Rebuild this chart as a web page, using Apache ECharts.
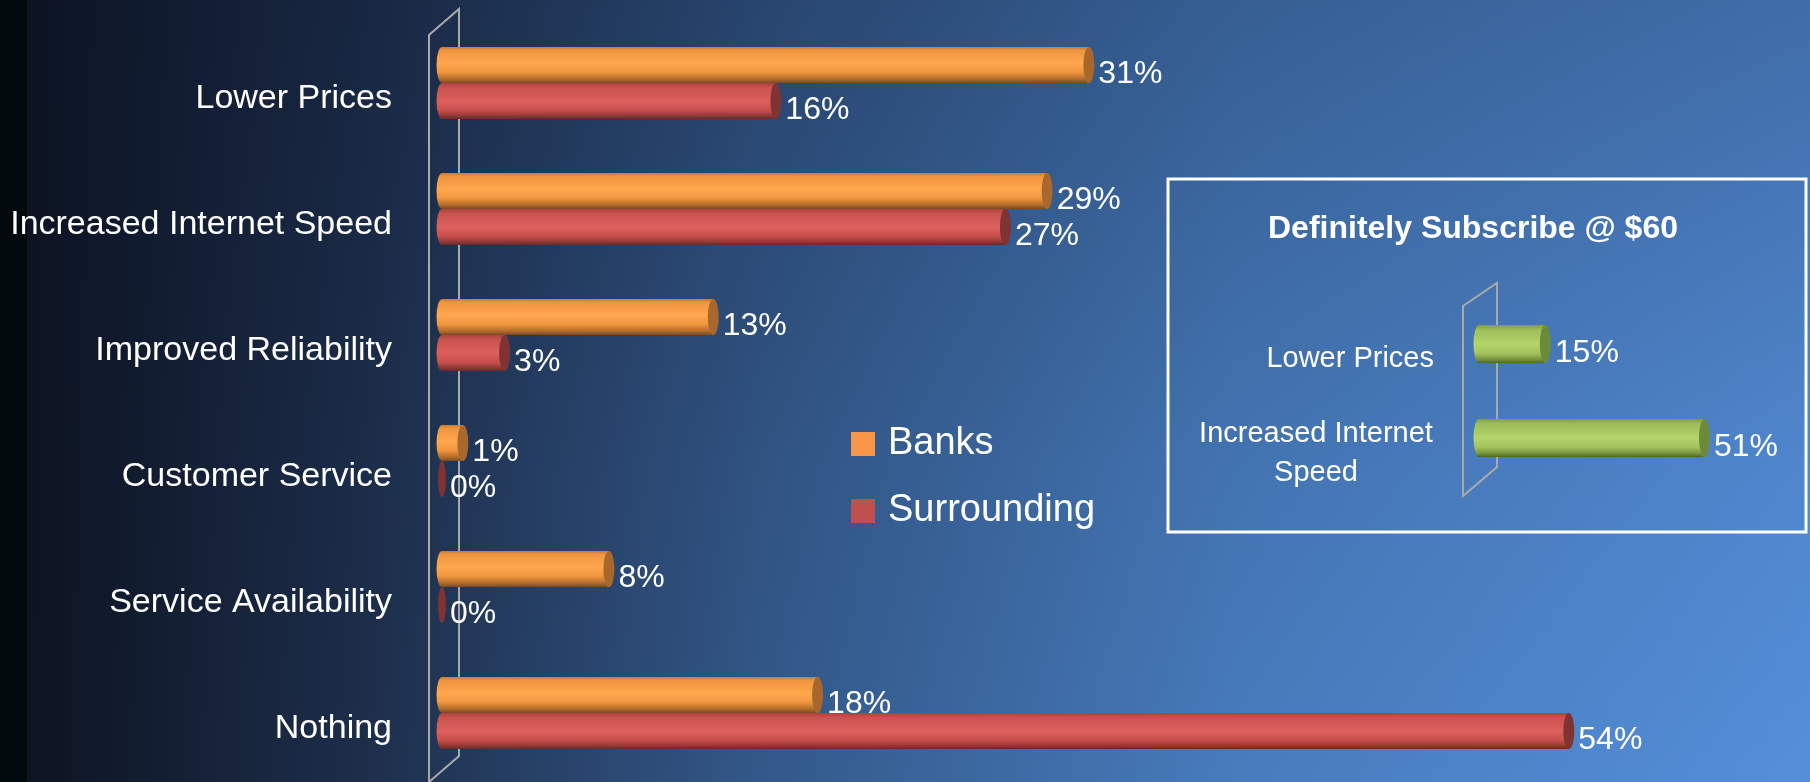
<!DOCTYPE html>
<html>
<head>
<meta charset="utf-8">
<script src="https://cdn.jsdelivr.net/npm/echarts@6/dist/echarts.min.js"></script>
<style>
  html, body { margin: 0; padding: 0; background: #0c1220; }
  #chart { width: 1810px; height: 782px; }
</style>
</head>
<body>
<div id="chart"></div>
<script>
// Survey answers: what would make households switch providers
const categories = ['Lower Prices', 'Increased Internet Speed', 'Improved Reliability', 'Customer Service', 'Service Availability', 'Nothing'];
const banks = [31, 29, 13, 1, 8, 18];
const surrounding = [16, 27, 3, 0, 0, 54];

// Inset: share that would definitely subscribe at $60
const insetTitle = 'Definitely Subscribe @ $60';
const insetCategories = ['Lower Prices', 'Increased Internet Speed'];
const insetValues = [15, 51];

const FONT = '"Liberation Sans", Arial, sans-serif';

const W = 1810, H = 782;
// main plot area (left edge = zero line)
const MAIN = { left: 442, top: 20, height: 756, width: 1252 };
// inset plot area
const INSET = { left: 1479, top: 297, height: 188, width: 442 };
const BOX = { x: 1168, y: 179, w: 638, h: 353 };

function vGrad(stops) {
  return { type: 'linear', x: 0, y: 0, x2: 0, y2: 1,
    colorStops: stops.map(s => ({ offset: s[0], color: s[1] })) };
}

const palettes = {
  orange: {
    body: [[0, '#c77a36'], [0.1, '#f0953f'], [0.45, '#ffa84e'], [0.7, '#f0963f'], [0.9, '#b06a2a'], [1, '#7a4820']],
    cap: '#a8672c', legend: '#F79646'
  },
  red: {
    body: [[0, '#a8423f'], [0.12, '#c9524f'], [0.5, '#dd605d'], [0.75, '#c9504d'], [0.92, '#8c3836'], [1, '#6a2826']],
    cap: '#7f3332', legend: '#C0504D'
  },
  green: {
    body: [[0, '#7e9c44'], [0.12, '#9dbd5a'], [0.5, '#b3d56b'], [0.75, '#a2c25e'], [0.92, '#71903a'], [1, '#4f6428']],
    cap: '#6d8a3b', legend: '#9BBB59'
  }
};

// Cylinder-shaped horizontal bar: body + rounded start + darker end cap + value text
function cylinder(pal, slotOffset, thickFrac, labelSize, labelDy) {
  return function (params, api) {
    const v = api.value(0);
    const c = api.value(1);
    const p0 = api.coord([0, c]);
    const p1 = api.coord([v, c]);
    const band = api.size([0, 1])[1];
    const th = band * thickFrac;
    const yTop = p0[1] + slotOffset * th;
    const ry = th / 2;
    const cy = yTop + ry;
    const rx = v > 0 ? 5.5 : 4;
    const children = [];
    if (v > 0) {
      children.push({
        type: 'circle', x: p0[0], y: cy, scaleX: rx / ry,
        shape: { cx: 0, cy: 0, r: ry },
        style: { fill: vGrad(pal.body) }
      });
      children.push({
        type: 'rect',
        shape: { x: p0[0], y: yTop, width: p1[0] - p0[0], height: th },
        style: { fill: vGrad(pal.body) }
      });
    }
    children.push({
      type: 'circle', x: p1[0], y: cy, scaleX: rx / ry,
      shape: { cx: 0, cy: 0, r: ry },
      style: { fill: pal.cap }
    });
    children.push({
      type: 'text', x: p1[0] + rx + 4, y: cy + labelDy,
      style: {
        text: v + '%', fill: '#ffffff', align: 'left', verticalAlign: 'middle',
        font: labelSize + 'px ' + FONT
      }
    });
    return { type: 'group', children: children };
  };
}

// Category names beside the plot wall; long inset names wrap onto two centred lines
function categoryText(names, gap, size, dy, blockWidth) {
  return function (params, api) {
    const c = api.value(1);
    const p = api.coord([0, c]);
    const words = names[c].split(' ');
    let style;
    if (blockWidth && words.length > 2) {
      style = {
        text: '{c|' + words.slice(0, 2).join(' ') + '}\n{c|' + words.slice(2).join(' ') + '}',
        rich: { c: { width: blockWidth, align: 'center', fill: '#ffffff', font: size + 'px ' + FONT, lineHeight: 39 } },
        align: 'right', verticalAlign: 'middle'
      };
    } else {
      style = { text: names[c], fill: '#ffffff', font: size + 'px ' + FONT, align: 'right', verticalAlign: 'middle' };
    }
    return { type: 'text', x: p[0] - gap, y: p[1] + dy, style: style };
  };
}

const chart = echarts.init(document.getElementById('chart'), null, { renderer: 'canvas' });

const mainBottom = MAIN.top + MAIN.height;
const wallMain = [
  [MAIN.left - 13, MAIN.top + 15], [MAIN.left + 17, MAIN.top - 11],
  [MAIN.left + 17, mainBottom - 20], [MAIN.left - 13, mainBottom + 6]
];
const insetBottom = INSET.top + INSET.height;
const wallInset = [
  [INSET.left - 16, INSET.top + 9], [INSET.left + 18, INSET.top - 14],
  [INSET.left + 18, insetBottom - 18], [INSET.left - 16, insetBottom + 11]
];

const hiddenCat = {
  axisLine: { show: false }, axisTick: { show: false }, splitLine: { show: false }, axisLabel: { show: false }
};

chart.setOption({
  animation: false,
  backgroundColor: 'transparent',
  graphic: [
    { type: 'rect', z: -20, silent: true, shape: { x: 0, y: 0, width: W, height: H },
      style: { fill: { type: 'linear', x: 0, y: 0, x2: 1, y2: 0, colorStops: [
        { offset: 0, color: '#0b111e' }, { offset: 0.06, color: '#111a2c' },
        { offset: 0.2, color: '#1d2e4b' }, { offset: 0.42, color: '#335889' },
        { offset: 0.68, color: '#477bbc' }, { offset: 1, color: '#558fda' }] } } },
    { type: 'rect', z: -19, silent: true, shape: { x: 0, y: 0, width: W, height: H },
      style: { fill: { type: 'linear', x: 0, y: 0, x2: 0, y2: 1, colorStops: [
        { offset: 0, color: 'rgba(10,20,40,0.28)' }, { offset: 0.6, color: 'rgba(10,20,40,0.07)' },
        { offset: 1, color: 'rgba(10,20,40,0)' }] } } },
    { type: 'rect', z: -18, silent: true, shape: { x: 0, y: 0, width: 27, height: H },
      style: { fill: '#020a0d' } },
    { type: 'polygon', z: 0, silent: true, shape: { points: wallMain },
      style: { fill: 'none', stroke: '#a9a9a9', lineWidth: 2 } },
    { type: 'polygon', z: 0, silent: true, shape: { points: wallInset },
      style: { fill: 'none', stroke: '#a9a9a9', lineWidth: 2 } },
    { type: 'rect', z: 0, silent: true, shape: { x: BOX.x, y: BOX.y, width: BOX.w, height: BOX.h },
      style: { fill: 'none', stroke: '#ffffff', lineWidth: 3 } },
    { type: 'text', z: 1, silent: true, x: 1473, y: 229,
      style: { text: insetTitle, fill: '#ffffff', font: 'bold 32px ' + FONT, align: 'center', verticalAlign: 'middle' } }
  ],
  legend: {
    data: ['Banks', 'Surrounding'],
    orient: 'vertical',
    left: 846,
    top: 419,
    icon: 'rect',
    itemWidth: 24,
    itemHeight: 24,
    itemGap: 27,
    textStyle: { color: '#ffffff', fontFamily: FONT, fontSize: 38, lineHeight: 40, padding: [0, 0, 0, 8] }
  },
  grid: [
    { left: MAIN.left, top: MAIN.top, width: MAIN.width, height: MAIN.height, outerBoundsMode: 'none', containLabel: false },
    { left: INSET.left, top: INSET.top, width: INSET.width, height: INSET.height, outerBoundsMode: 'none', containLabel: false }
  ],
  xAxis: [
    { type: 'value', gridIndex: 0, min: 0, max: 60, show: false },
    { type: 'value', gridIndex: 1, min: 0, max: 100, show: false }
  ],
  yAxis: [
    Object.assign({ type: 'category', gridIndex: 0, data: categories, inverse: true }, hiddenCat),
    Object.assign({ type: 'category', gridIndex: 1, data: insetCategories, inverse: true }, hiddenCat)
  ],
  series: [
    { name: 'Banks', type: 'custom', xAxisIndex: 0, yAxisIndex: 0,
      itemStyle: { color: palettes.orange.legend },
      encode: { x: 0, y: 1 },
      data: banks.map((v, i) => [v, i]),
      renderItem: cylinder(palettes.orange, -1, 0.286, 32, 9) },
    { name: 'Surrounding', type: 'custom', xAxisIndex: 0, yAxisIndex: 0,
      itemStyle: { color: palettes.red.legend },
      encode: { x: 0, y: 1 },
      data: surrounding.map((v, i) => [v, i]),
      renderItem: cylinder(palettes.red, 0, 0.286, 32, 9) },
    { name: 'Subscribe', type: 'custom', xAxisIndex: 1, yAxisIndex: 1,
      itemStyle: { color: palettes.green.legend },
      encode: { x: 0, y: 1 },
      data: insetValues.map((v, i) => [v, i]),
      renderItem: cylinder(palettes.green, -0.5, 0.404, 32, 9) },
    { name: 'Categories', type: 'custom', xAxisIndex: 0, yAxisIndex: 0, silent: true,
      encode: { x: 0, y: 1 },
      data: categories.map((c, i) => [0, i]),
      renderItem: categoryText(categories, 50, 34, 16, 0) },
    { name: 'Inset categories', type: 'custom', xAxisIndex: 1, yAxisIndex: 1, silent: true,
      encode: { x: 0, y: 1 },
      data: insetCategories.map((c, i) => [0, i]),
      renderItem: categoryText(insetCategories, 45, 29, 15, 236) }
  ]
});
</script>
</body>
</html>
